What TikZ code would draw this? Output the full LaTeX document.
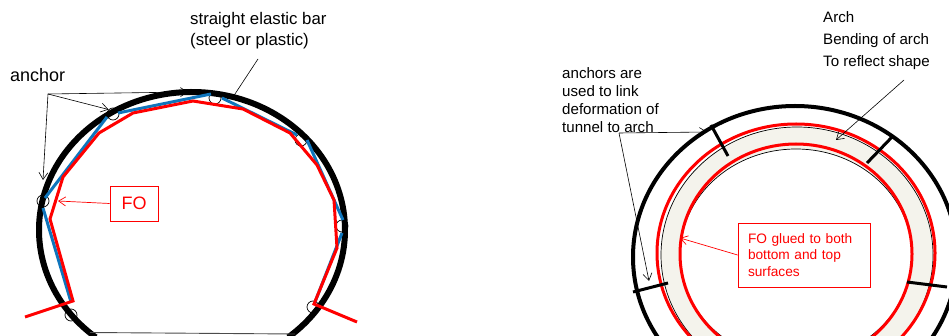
\documentclass[tikz,border=0pt]{standalone}
\usepackage{fontspec}
\setmainfont{Liberation Sans}
\usetikzlibrary{positioning, arrows.meta}
\definecolor{barblue}{HTML}{0F75BC}
\definecolor{archfill}{HTML}{F4F3EC}
\tikzset{
  leader/.style={draw=black, line width=0.6pt},
  leaderarrow/.style={leader, -{Straight Barb[length=7pt,width=9pt]}},
  redarrow/.style={draw=red, line width=0.7pt, -{Straight Barb[length=7pt,width=9pt]}},
  anchorring/.style={circle, draw=black, line width=0.7pt, minimum size=12pt, inner sep=0pt},
  redbox/.style={draw=red, line width=0.8pt, text=red, align=left},
  label/.style={anchor=west, align=left, inner sep=0pt},
  bar/.style={draw=barblue, line width=3pt},
  fibre/.style={draw=red, line width=3pt, line join=miter},
  anchorbar/.style={draw=black, line width=3pt}
}
\begin{document}
\begin{tikzpicture}[x=1pt, y=-1pt]
\useasboundingbox (0,0) rectangle (949,336);
\clip (0,0) rectangle (949,336);

% tunnel with bars
\node[anchorring] (r1) at (43,201) {};
\node[anchorring] (r2) at (113,114) {};
\node[anchorring] (r3) at (215,98) {};
\node[anchorring] (r4) at (301,140) {};
\node[anchorring] (r5) at (342,226) {};
\node[anchorring] (r6) at (71,315) {};
\node[anchorring] (r7) at (313,307) {};

\draw[line width=6pt] (192,230) ++(129:153 and 138) arc[start angle=129, end angle=411, x radius=153, y radius=138];
\draw[line width=0.9pt, draw=black!70] (90,332.5) -- (295,334);

\draw[bar] (45,198)--(107,117);
\draw[bar] (118,113)--(211,94);
\draw[bar] (222,98)--(297,135);
\draw[bar] (307,140)--(343,220);
\draw[bar] (342,233)--(315,302);
\draw[bar] (43,208)--(71,302);

\draw[fibre] (25,317)--(73,301)--(50,219)--(63,177)--(99,133)--(133,113)--(193,101)--(243,109)--(290,133)--(317,165)--(334,200)--(337,248)--(314,304)--(357,322);

% left labels
\node[label, font=\fontsize{18}{20}\selectfont] (anchor) at (10,75) {anchor};
\coordinate (anchorfrom) at (48,94);
\coordinate (anchorleft) at (43,180);
\coordinate (anchortop) at (188,92);
\draw[leaderarrow] (anchorfrom)--(anchorleft);
\draw[leaderarrow] (anchorfrom)--(r2.north west);
\draw[leaderarrow] (anchorfrom)--(anchortop);

\node[label, font=\fontsize{16.8}{21}\selectfont] (bartext) at (190,31) {straight elastic bar\\(steel or plastic)};
\coordinate (barfrom) at (258,59);
\coordinate (barend) at (233,97);
\draw[leader] (barfrom)--(barend);

\node[redbox, minimum width=48pt, minimum height=35pt, align=center, font=\fontsize{18}{20}\selectfont] (fo) at (134,203.5) {FO};
\coordinate (fotip) at (58,201);
\draw[redarrow] (fo.west)--(fotip);

% ring
\draw[line width=4pt] (795,257) ellipse [x radius=162, y radius=151];
\draw[draw=black, fill=archfill, line width=0.7pt] (797,255) ellipse [x radius=136, y radius=128];
\draw[draw=black, fill=white, line width=0.7pt] (796,255) ellipse [x radius=116, y radius=106];
\draw[fibre] (796,253) ellipse [x radius=139, y radius=129];
\draw[fibre] (796,254) ellipse [x radius=116, y radius=110];

\draw[anchorbar] (711,125)--(728,156);
\draw[anchorbar] (892,137)--(867,163);
\draw[anchorbar] (633,292)--(668,283);
\draw[anchorbar] (907,282)--(947,287);

% right labels
\node[label, font=\fontsize{15.1}{18.2}\selectfont] (linktext) at (562,100) {anchors are\\used to link\\deformation of\\tunnel to arch};
\coordinate (linkfrom) at (619,133);
\coordinate (linkone) at (707,132);
\coordinate (linktwo) at (649,281);
\draw[leaderarrow] (linkfrom)--(linkone);
\draw[leaderarrow] (linkfrom)--(linktwo);

\node[label, font=\fontsize{15.1}{22}\selectfont] (archtext) at (823,41) {Arch\\Bending of arch\\To reflect shape};
\coordinate (archfrom) at (904,80);
\coordinate (archtip) at (836,140);
\draw[leaderarrow] (archfrom)--(archtip);

\node[redbox, minimum width=132pt, minimum height=64pt, text width=112pt, font=\fontsize{13.7}{16.5}\selectfont] (glue) at (804,255) {FO glued to both\\bottom and top\\surfaces};
\coordinate (gluetip) at (680,238);
\draw[redarrow] (glue.west)--(gluetip);

\end{tikzpicture}
\end{document}
